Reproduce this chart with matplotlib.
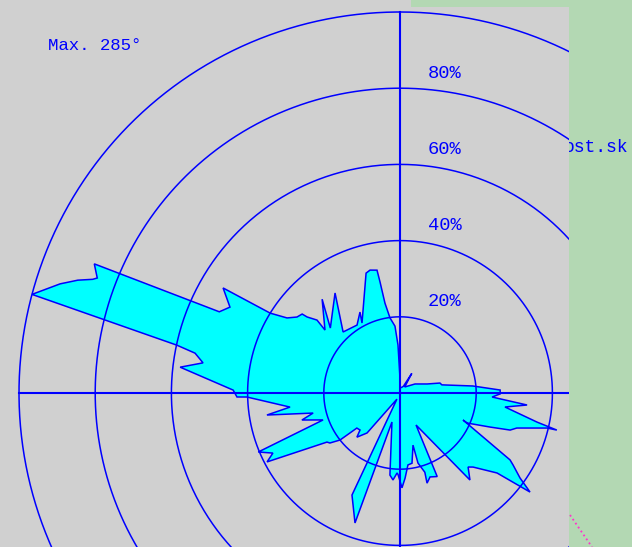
import numpy as np
import matplotlib
matplotlib.use("Agg")
import matplotlib.pyplot as plt
from matplotlib.patches import Rectangle
from matplotlib.lines import Line2D
from matplotlib.transforms import Bbox, TransformedBbox

# rose outline: direction (deg, clockwise from north) and frequency (%)
directions = [0, 15, 27, 31, 38, 59, 71.6, 76, 79, 84.5, 88.3, 90.5, 92.5, 95.4,
              97.6, 102, 103.3, 103.4, 106.7, 108.6, 110.7, 114.1, 113.2, 121.3,
              122.5, 125.3, 127.3, 129.5, 135.4, 137.4, 141.2, 153.4, 156, 160.3,
              163.3, 162.6, 165.6, 166, 170.3, 173.7, 176.6, 178.8, 181.4, 182.1,
              184.6, 187, 195.5, 199.1, 205.2, 206.6, 219.5, 224.3, 227.2, 230.9,
              231.9, 234.5, 236.1, 242.6, 244.7, 247.4, 250.7, 254.6, 257, 260.6,
              262.7, 268.5, 268.6, 271, 276.7, 278.7, 281, 282.1, 285, 287.8,
              289.3, 290.3, 290.8, 292.9, 294.2, 296.8, 300.7, 301.6, 303.6, 306.4,
              308.9, 309.3, 311.3, 310, 320.3, 313, 327, 317, 319.9, 327.7, 333.7,
              331.5, 344.2, 346.3, 349.4, 349.8, 350.5, 352.4, 355.7, 357.6, 359.2, 360]
percent = [1.5, 1.5, 2, 6, 2, 4.6, 7.5, 10.8, 11.2, 19.2, 26.3, 26.3, 24.2, 33.5,
           27.8, 36.8, 42.3, 39.7, 32, 30.5, 25.3, 19.3, 18, 33.8,
           35.2, 38.6, 42.9, 33, 27.3, 26.4, 29.3, 9.4, 24, 23.4,
           24.7, 21.8, 19, 14.1, 18.7, 19, 22.4, 24.9, 21.4, 21,
           22.9, 21.7, 7.9, 36.1, 29.6, 1.8, 13.6, 16.2, 14.3, 14.6,
           20, 22.6, 23.1, 39.3, 36.9, 40.3, 21.4, 26.7, 23.4, 35.4,
           29.1, 40.2, 42.8, 43.8, 58.1, 52.3, 54.8, 59.9, 100, 93.7,
           89.6, 86, 85, 87.1, 52, 50, 54, 40, 35.6, 33.6,
           33, 31.5, 29, 25.7, 32, 25, 31.3, 21.9, 21.6, 21.1, 23.7,
           20.9, 32.7, 33.2, 32.8, 29.6, 23.9, 19.9, 17.6, 12.6, 5, 1.5]

rings = [20, 40, 60, 80, 100]
ring_labels = ["20%", "40%", "60%", "80%"]
max_label = "Max. 285\u00b0"

BLUE = "#0000ff"
GRAY = "#d0d0d0"
GREEN = "#b3d8b3"
W, H = 632, 547

fig = plt.figure(figsize=(W / 100, H / 100), dpi=100, facecolor=GREEN)

# text sitting behind the gray panel
fig.text(564 / W, (H - 147) / H, "ost.sk", color=BLUE, family="Liberation Mono",
         fontsize=13, va="center", ha="left", zorder=-3)

fig.add_artist(Rectangle((0, 0), 569 / W, 540 / H, transform=fig.transFigure,
                         facecolor=GRAY, edgecolor="none", zorder=-2))
fig.add_artist(Rectangle((0, 539 / H), 411 / W, 8 / H, transform=fig.transFigure,
                         facecolor=GRAY, edgecolor="none", zorder=-2))

panel = TransformedBbox(Bbox([[0, 0], [569 / W, 540 / H]]), fig.transFigure)

# polar axes: centre at (400, 393) px from top, 100% = 381 px
cx, cy, R = 400, H - 393, 381
ax = fig.add_axes([(cx - R) / W, (cy - R) / H, 2 * R / W, 2 * R / H], projection="polar")
ax.set_theta_zero_location("N")
ax.set_theta_direction(-1)
ax.set_ylim(0, 100)
ax.grid(False)
ax.set_xticks([])
ax.set_yticks([])
ax.spines["polar"].set_visible(False)
ax.patch.set_visible(False)

arts = []
arts += ax.fill(np.deg2rad(directions), percent, facecolor="#00ffff",
                edgecolor=BLUE, lw=1.1, zorder=2)

t = np.linspace(0, 2 * np.pi, 721)
for r in rings:
    arts += ax.plot(t, np.full_like(t, r), color=BLUE, lw=1.1, zorder=3)
for a in [0, 90, 180, 270]:
    arts += ax.plot(np.deg2rad([a, a]), [0, 100], color=BLUE, lw=1.5, zorder=3)

for a in arts:
    a.set_clip_path(None)
    a.set_clip_box(panel)

for r, lab in zip(rings, ring_labels):
    ax.annotate(lab, xy=(0, r), xytext=(28, 15), textcoords="offset pixels",
                color=BLUE, family="Liberation Mono", fontsize=13.5,
                ha="left", va="center", annotation_clip=False)

fig.text(48 / W, (H - 45) / H, max_label, color=BLUE, family="Liberation Mono",
         fontsize=12.5, va="center", ha="left")

fig.add_artist(Line2D([570 / W, 592 / W], [32 / H, 0], transform=fig.transFigure,
                      color="#ff33cc", ls=":", lw=1.3))

fig.savefig("out.png", dpi=100, facecolor=GREEN)
